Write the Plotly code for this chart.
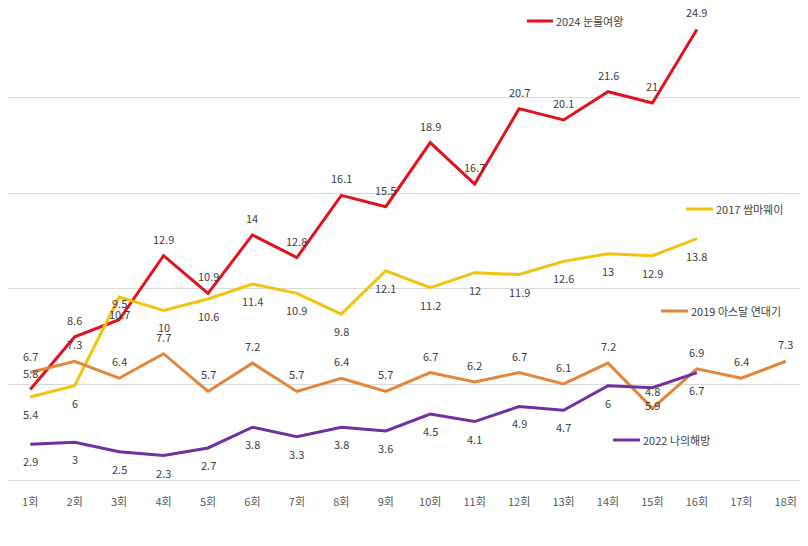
import plotly.graph_objects as go

episodes = [f"{i}회" for i in range(1, 19)]

names = ["2024 눈물여왕", "2017 쌈마웨이", "2019 아스달 연대기", "2022 나의해방"]
red_vals = [5.8, 8.6, 9.5, 12.9, 10.9, 14, 12.8, 16.1, 15.5, 18.9, 16.7, 20.7, 20.1, 21.6, 21, 24.9]
yellow_vals = [5.4, 6, 10.7, 10, 10.6, 11.4, 10.9, 9.8, 12.1, 11.2, 12, 11.9, 12.6, 13, 12.9, 13.8]
orange_vals = [6.7, 7.3, 6.4, 7.7, 5.7, 7.2, 5.7, 6.4, 5.7, 6.7, 6.2, 6.7, 6.1, 7.2, 4.8, 6.9, 6.4, 7.3]
purple_vals = [2.9, 3, 2.5, 2.3, 2.7, 3.8, 3.3, 3.8, 3.6, 4.5, 4.1, 4.9, 4.7, 6, 5.9, 6.7]

colors = ["#E0131D", "#F2C20F", "#E4853A", "#7030A0"]
series = [red_vals, yellow_vals, orange_vals, purple_vals]
label_shift = [17, -17, 17, -17]  # labels above / below
# inline legend positions (screen px): line x0, x1, y
legend_pos = [(527, 553, 21), (686, 713, 209), (661, 688, 311), (613, 640, 440)]

# page body has an 8px margin; plot area spans screen x 8..808, y 8..480
OFF = 8
PW, PH = 800, 472
W, H = 800, 538
FONT = "Noto Sans CJK KR, Malgun Gothic, sans-serif"


def px(x):
    return (x - OFF) / PW


def py(y):
    return (480 - y) / PH


fig = go.Figure()
annotations = []
shapes = []
for name, vals, col, sh, lp in zip(names, series, colors, label_shift, legend_pos):
    xs = episodes[:len(vals)]
    fig.add_trace(go.Scatter(x=xs, y=vals, mode="lines", name=name,
                             line=dict(color=col, width=3), showlegend=False))
    for x, v in zip(xs, vals):
        annotations.append(dict(x=x, y=v, xref="x", yref="y", text=f"{v:g}",
                                showarrow=False, yshift=sh,
                                font=dict(size=11, color="#404040", family=FONT)))
    x0, x1, yy = lp
    shapes.append(dict(type="line", xref="paper", yref="paper",
                       x0=px(x0), x1=px(x1), y0=py(yy), y1=py(yy),
                       line=dict(color=col, width=3)))
    annotations.append(dict(xref="paper", yref="paper", x=px(x1 + 1),
                            y=py(yy), xanchor="left", yanchor="middle",
                            text=name, showarrow=False,
                            font=dict(size=11, color="#404040", family=FONT)))

fig.update_layout(
    width=W, height=H,
    margin=dict(l=0, r=0, t=0, b=H - PH),
    paper_bgcolor="white", plot_bgcolor="white",
    font=dict(family=FONT, size=11, color="#595959"),
    annotations=annotations, shapes=shapes,
    xaxis=dict(type="category", categoryorder="array", categoryarray=episodes,
               range=[-0.5, 17.5], showgrid=False, showline=True,
               linecolor="#D9D9D9", linewidth=1, ticks="",
               ticklabelstandoff=12,
               tickfont=dict(size=11, color="#595959", family=FONT)),
    yaxis=dict(range=[1, 1 + PH / 18.85], tick0=1, dtick=5.07, showticklabels=False,
               showgrid=True, gridcolor="#D9D9D9", gridwidth=1,
               zeroline=False, showline=False),
)

fig.write_html("out.html")
